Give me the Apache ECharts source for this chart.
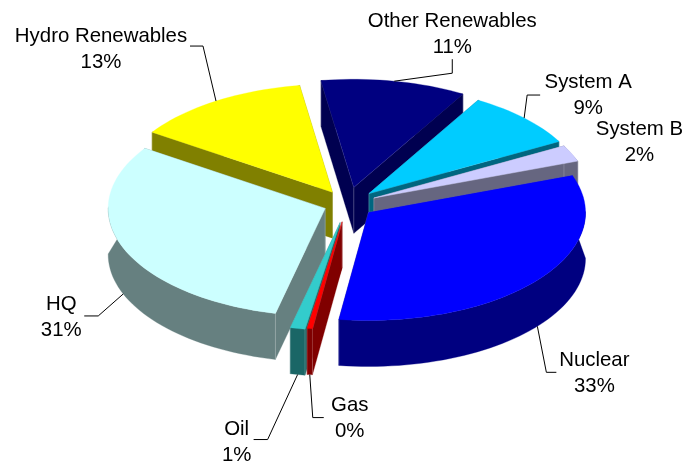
<!DOCTYPE html>
<html><head><meta charset="utf-8">
<style>html,body{margin:0;padding:0;background:#fff}#c{width:686px;height:466px}</style>
<script src="https://cdn.jsdelivr.net/npm/echarts@6/dist/echarts.min.js"></script>
</head><body><div id="c"></div>
<script>
// Data
const categories = ['Other Renewables','System A','System B','Nuclear','Gas','Oil','HQ','Hydro Renewables'];
const values = [10.8, 8.6, 2.45, 32.75, 0.4, 1.1, 30.7, 13.2];
const explosion = [34, 30, 29, 27, 36, 38, 24, 28];
// Styles
const topColors = ['#000080','#00CCFF','#CCCCFF','#0000FF','#FF0000','#33CCCC','#CCFFFF','#FFFF00'];
const sideColors = ['#000050','#006680','#666680','#000080','#800000','#1A6666','#668080','#808000'];
// Layout: leader elbows and label centres, relative to each slice's rim anchor
const leaderOffsets = [[58,-8,58,-22],[3,-23,16,-23],null,[9,46,19,46],[3,43,14,43],[-30,65,-44,65],[-25,22,-39,22],[-13,-55,-26,-55]];
const labelOffsets = [[58,-47],[64,-23],[68,-11],[57,47],[40,44],[-61,68],[-62,23],[-115,-52]];
const cx = 347.5, cy = 204, rx = 217, ry = 108, depth = 46, startAngle = -8.7;
const total = values.reduce((a,b)=>a+b,0);
const spans = []; let acc = startAngle;
values.forEach(v=>{ const s = v/total*360; spans.push([acc, acc+s]); acc += s; });
const rad = d => d*Math.PI/180;
const midOf = i => (spans[i][0]+spans[i][1])/2;
// back-to-front paint order derived from each slice's direction
const order = values.map((_,i)=>i).sort((a,b)=>Math.cos(rad(midOf(b)))-Math.cos(rad(midOf(a))));
function apex(i){ const m=rad(midOf(i)); return [cx+explosion[i]*Math.sin(m), cy-explosion[i]*0.5*Math.cos(m)]; }
function rim(i,a){ const p=apex(i); return [p[0]+rx*Math.sin(rad(a)), p[1]-ry*Math.cos(rad(a))]; }
const down = p => [p[0], p[1]+depth];
function arcPts(i){ const n=Math.max(2,Math.ceil((spans[i][1]-spans[i][0])/2)); const out=[];
  for(let k=0;k<=n;k++) out.push(rim(i,spans[i][0]+(spans[i][1]-spans[i][0])*k/n)); return out; }
const font = '20.4px "Liberation Sans", Arial, sans-serif';
function renderItem(params, api){
  const i = api.value(0), A = apex(i), arc = arcPts(i), top = topColors[i], side = sideColors[i];
  const kids = [];
  const poly = (pts,fill)=>kids.push({type:'polygon',shape:{points:pts},style:{fill,stroke:fill,lineWidth:0.3}});
  const seam = pts=>kids.push({type:'polyline',shape:{points:pts},style:{fill:null,stroke:'rgba(255,255,255,0.35)',lineWidth:0.6}});
  const first = arc[0], last = arc[arc.length-1];
  poly([A,first,down(first),down(A)],side);
  poly([A,last,down(last),down(A)],side);
  const front = arc.filter((p,k)=>{ const a=spans[i][0]+(spans[i][1]-spans[i][0])*k/(arc.length-1); return Math.cos(rad(a))<=0.02 || k===0 || k===arc.length-1; });
  poly(front.concat(front.slice().reverse().map(down)),side);
  seam([first,A,last]);
  seam([A,down(A)]);
  seam([first,down(first)]);
  seam([last,down(last)]);
  poly([A].concat(arc),top);
  const m = midOf(i);
  const mp = rim(i,m);
  const onFront = Math.cos(rad(m))<0;
  const anchor = onFront ? down(mp) : mp;
  const lo = leaderOffsets[i];
  if(lo){ kids.push({type:'polyline',shape:{points:[anchor,[anchor[0]+lo[0],anchor[1]+lo[1]],[anchor[0]+lo[2],anchor[1]+lo[3]]]},style:{fill:null,stroke:'#000',lineWidth:1}}); }
  const t = labelOffsets[i];
  kids.push({type:'text',style:{x:anchor[0]+t[0],y:anchor[1]+t[1],text:categories[i]+'\n'+Math.round(values[i])+'%',font,fill:'#000',align:'center',verticalAlign:'middle',lineHeight:26}});
  return {type:'group',children:kids};
}
const chart = echarts.init(document.getElementById('c'),null,{renderer:'canvas'});
chart.setOption({
  animation:false,
  backgroundColor:'#fff',
  series:[{type:'custom',coordinateSystem:'none',renderItem,data:order.map(i=>[i,values[i]]),silent:true,clip:false}]
});
</script></body></html>
